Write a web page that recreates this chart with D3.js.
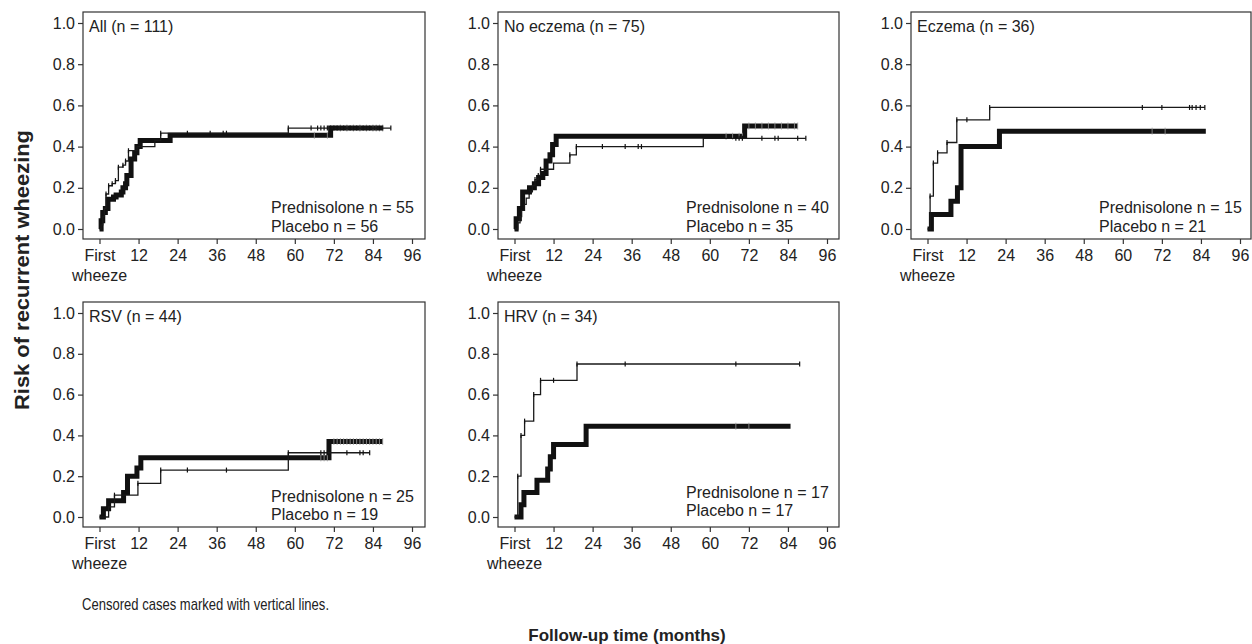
<!DOCTYPE html>
<html><head><meta charset="utf-8">
<script src="https://cdn.jsdelivr.net/npm/d3@7"></script>
<style>
body{margin:0;background:#fff}
svg{display:block}
text{font-family:"Liberation Sans",Arial,Helvetica,sans-serif;fill:#222}
</style>
</head><body>
<svg id="c" width="1252" height="644"></svg>
<script>
// ---------------- DATA ----------------
const panelTitles = ["All (n = 111)", "No eczema (n = 75)", "Eczema (n = 36)", "RSV (n = 44)", "HRV (n = 34)"];
const predN = [55, 40, 15, 25, 17];
const placN = [56, 35, 21, 19, 17];
const xTicks = [0, 12, 24, 36, 48, 60, 72, 84, 96];
const xTickLabels = ["First", "12", "24", "36", "48", "60", "72", "84", "96"];
const yTicks = [0, 0.2, 0.4, 0.6, 0.8, 1.0];
const yTickLabels = ["0.0", "0.2", "0.4", "0.6", "0.8", "1.0"];

// Prednisolone (thick) – [month, cumulative risk]
const allPred = [[0,0],[0.5,0.04],[1,0.08],[1.8,0.10],[2.6,0.145],[4.3,0.155],[5.1,0.165],[6.7,0.18],[7.2,0.20],[8,0.22],[8.4,0.26],[9.7,0.34],[10.8,0.37],[11.5,0.40],[12.5,0.43],[21.7,0.455],[71,0.49]];
const allPredEnd = 87;
const allPredCens = [66,70,74,76,78,80,82,84,85,86,87];
// Placebo (thin)
const allPlac = [[0,0],[0.5,0.02],[1,0.06],[1.5,0.10],[2,0.17],[2.8,0.21],[3.9,0.22],[4.9,0.235],[5.8,0.30],[7.2,0.31],[8,0.33],[8.9,0.38],[11.5,0.40],[17,0.43],[18.8,0.465],[58,0.49]];
const allPlacEnd = 89.5;
const allPlacCens = [2,2.8,3.9,4.9,5.8,7.2,8,8.9,18.8,27,34,38,39,58,65,67,68,69,70,71,72,73,74,75,76,77,78,79,80,81,82,83,84,85,86,87,89.5];

const noEczPred = [[0,0],[0.5,0.05],[1.5,0.10],[2.5,0.18],[4.6,0.20],[6.1,0.22],[7.4,0.25],[8.7,0.27],[9.7,0.33],[10.9,0.36],[11.7,0.41],[12.8,0.45],[70.7,0.50]];
const noEczPredEnd = 87;
const noEczPredCens = [65,67,69,70,72,74,76,78,80,82,84,86,87];
const noEczPlac = [[0,0],[1,0.03],[1.7,0.06],[2.2,0.09],[3,0.12],[3.6,0.15],[4.5,0.18],[5.5,0.21],[6.3,0.24],[7.3,0.26],[8,0.29],[12,0.32],[17,0.36],[19,0.40],[58,0.44]];
const noEczPlacEnd = 89.5;
const noEczPlacCens = [4.5,6.3,7.3,8,17,19,27,34,38,39,68,69,70,76,80,81,87,89.5];

const eczPred = [[0,0],[1.2,0.07],[7.2,0.135],[9.2,0.20],[10.3,0.40],[22.1,0.475]];
const eczPredEnd = 85.5;
const eczPredCens = [69,73];
const eczPlac = [[0,0],[0.8,0.16],[1.8,0.32],[3.1,0.37],[6,0.42],[9,0.53],[19.1,0.59]];
const eczPlacEnd = 85.2;
const eczPlacCens = [0.8,1.8,3.1,6,9,12.1,19.1,66,72,80.5,81.3,82.5,83.8,85.2];

const rsvPred = [[0,0],[1.2,0.04],[2.8,0.08],[7.4,0.12],[8.6,0.20],[11.5,0.24],[12.7,0.29],[70.5,0.37]];
const rsvPredEnd = 87;
const rsvPredCens = [68,69,70,72,73,74,75,76,77,78,79,80,81,82,83,84,85,86,87];
const rsvPlac = [[0,0],[2.8,0.05],[4.6,0.107],[11.8,0.165],[18.8,0.23],[58,0.315]];
const rsvPlacEnd = 83;
const rsvPlacCens = [4.6,11.8,18.8,27,39,58,68,69,70,76,80,81,83];

const hrvPred = [[0,0],[2,0.06],[2.9,0.12],[6.9,0.18],[10.2,0.235],[11,0.295],[12,0.355],[22,0.445]];
const hrvPredEnd = 84.8;
const hrvPredCens = [68,72];
const hrvPlac = [[0,0],[1,0.20],[2,0.40],[3.1,0.47],[5.9,0.60],[8,0.67],[19.2,0.75]];
const hrvPlacEnd = 87.6;
const hrvPlacCens = [1,2,3.1,5.9,8,12,19.2,34,68,87.6];

// ---------------- LAYOUT ----------------
const panels = [
  {left: 83,  top: 12,  w: 342, h: 227, pred: allPred,   predEnd: allPredEnd,   predC: allPredCens,   plac: allPlac,   placEnd: allPlacEnd,   placC: allPlacCens,   legDy: [-26, -7]},
  {left: 498, top: 12,  w: 341, h: 227, pred: noEczPred, predEnd: noEczPredEnd, predC: noEczPredCens, plac: noEczPlac, placEnd: noEczPlacEnd, placC: noEczPlacCens, legDy: [-26, -7]},
  {left: 911, top: 12,  w: 340, h: 227, pred: eczPred,   predEnd: eczPredEnd,   predC: eczPredCens,   plac: eczPlac,   placEnd: eczPlacEnd,   placC: eczPlacCens,   legDy: [-26, -7]},
  {left: 83,  top: 302, w: 342, h: 225, pred: rsvPred,   predEnd: rsvPredEnd,   predC: rsvPredCens,   plac: rsvPlac,   placEnd: rsvPlacEnd,   placC: rsvPlacCens,   legDy: [-25, -7]},
  {left: 498, top: 302, w: 341, h: 225, pred: hrvPred,   predEnd: hrvPredEnd,   predC: hrvPredCens,   plac: hrvPlac,   placEnd: hrvPlacEnd,   placC: hrvPlacCens,   legDy: [-29, -11]}
];

const svg = d3.select("#c");

function stepVal(steps, t) {
  let v = 0;
  for (const [tt, vv] of steps) if (tt <= t) v = vv;
  return v;
}

panels.forEach((p, i) => {
  const g = svg.append("g");
  const x = d3.scaleLinear().domain([0, 96]).range([p.left + 16.5, p.left + 329]);
  const y = d3.scaleLinear().domain([0, 1]).range([p.top + p.h - 10, p.top + 11]);

  // frame
  g.append("rect").attr("x", p.left).attr("y", p.top).attr("width", p.w).attr("height", p.h)
    .attr("fill", "none").attr("stroke", "#333").attr("stroke-width", 1.2);

  // y axis
  const yAxis = d3.axisLeft(y).tickValues(yTicks).tickFormat((d, j) => yTickLabels[j]).tickSize(5).tickPadding(3);
  const ya = g.append("g").attr("transform", `translate(${p.left},0)`).call(yAxis);
  ya.select(".domain").remove();
  ya.selectAll("line").attr("stroke", "#333").attr("stroke-width", 1.2);
  ya.selectAll("text").attr("font-size", 16).attr("font-family", '"Liberation Sans",Arial,sans-serif').attr("fill", "#222");

  // x axis
  const xAxis = d3.axisBottom(x).tickValues(xTicks).tickFormat((d, j) => xTickLabels[j]).tickSize(5).tickPadding(6);
  const xa = g.append("g").attr("transform", `translate(0,${p.top + p.h})`).call(xAxis);
  xa.select(".domain").remove();
  xa.selectAll("line").attr("stroke", "#333").attr("stroke-width", 1.2);
  xa.selectAll("text").attr("font-size", 16).attr("font-family", '"Liberation Sans",Arial,sans-serif').attr("fill", "#222");
  g.append("text").attr("x", x(0)).attr("y", p.top + p.h + 42).attr("text-anchor", "middle")
    .attr("font-size", 16).text("wheeze");

  // title
  g.append("text").attr("x", p.left + 6).attr("y", p.top + 20).attr("font-size", 16).text(panelTitles[i]);

  // legend
  g.append("text").attr("x", p.left + 188).attr("y", p.top + p.h + p.legDy[0]).attr("font-size", 16)
    .text(`Prednisolone n = ${predN[i]}`);
  g.append("text").attr("x", p.left + 188).attr("y", p.top + p.h + p.legDy[1]).attr("font-size", 16)
    .text(`Placebo n = ${placN[i]}`);

  const line = d3.line().x(d => x(d[0])).y(d => y(d[1])).curve(d3.curveStepAfter);

  // prednisolone thick
  const predPts = p.pred.concat([[p.predEnd, p.pred[p.pred.length - 1][1]]]);
  g.append("path").datum(predPts).attr("d", line).attr("fill", "none")
    .attr("stroke", "#111").attr("stroke-width", 5).attr("stroke-linejoin", "miter");
  g.selectAll(".pc").data(p.predC).enter().append("line")
    .attr("x1", d => x(d)).attr("x2", d => x(d))
    .attr("y1", d => y(stepVal(p.pred, d)) - 3.5).attr("y2", d => y(stepVal(p.pred, d)) + 3.5)
    .attr("stroke", "#999").attr("stroke-width", 0.8);

  // placebo thin
  const placPts = p.plac.concat([[p.placEnd, p.plac[p.plac.length - 1][1]]]);
  g.append("path").datum(placPts).attr("d", line).attr("fill", "none")
    .attr("stroke", "#1a1a1a").attr("stroke-width", 1.3);
  g.selectAll(".lc").data(p.placC).enter().append("line")
    .attr("x1", d => x(d)).attr("x2", d => x(d))
    .attr("y1", d => y(stepVal(p.plac, d)) - 2.5).attr("y2", d => y(stepVal(p.plac, d)) + 2.5)
    .attr("stroke", "#111").attr("stroke-width", 1.2);
});

// global labels
svg.append("text").attr("transform", "translate(29,270) rotate(-90)").attr("text-anchor", "middle")
  .attr("font-size", 20).attr("font-weight", "bold").attr("fill", "#111")
  .attr("textLength", 280).attr("lengthAdjust", "spacingAndGlyphs")
  .text("Risk of recurrent wheezing");
svg.append("text").attr("x", 82).attr("y", 610).attr("font-size", 17).attr("fill", "#222")
  .attr("textLength", 247).attr("lengthAdjust", "spacingAndGlyphs")
  .text("Censored cases marked with vertical lines.");
svg.append("text").attr("x", 627).attr("y", 641).attr("text-anchor", "middle")
  .attr("font-size", 17).attr("font-weight", "bold").attr("fill", "#111").text("Follow-up time (months)");
</script>
</body></html>
